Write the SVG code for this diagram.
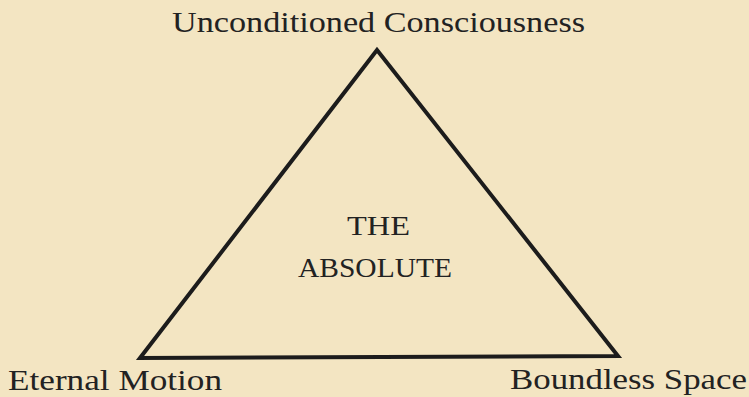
<svg xmlns="http://www.w3.org/2000/svg" width="749" height="397" viewBox="0 0 749 397">
<style>
.lbl{font-family:"Liberation Serif","DejaVu Serif",serif;fill:#222;}
.ctr{font-family:"Liberation Serif","DejaVu Serif",serif;font-size:27px;fill:#222;}
.edge{fill:none;stroke:#1c1c1c;stroke-width:4;stroke-linejoin:miter;}
</style>
<rect width="749" height="397" fill="#f3e5c2"/>
<g id="connectors">
<path class="edge" d="M140,358 L377,50 L618,356 Z"/>
</g>
<g id="node-top"><text class="lbl" font-size="30" x="172" y="32" textLength="413" lengthAdjust="spacingAndGlyphs">Unconditioned  Consciousness</text></g>
<g id="node-left"><text class="lbl" font-size="30" x="8" y="390" textLength="214" lengthAdjust="spacingAndGlyphs">Eternal  Motion</text></g>
<g id="node-right"><text class="lbl" font-size="30" x="510" y="389" textLength="237" lengthAdjust="spacingAndGlyphs">Boundless  Space</text></g>
<g id="node-center">
<text class="ctr" x="347" y="235" textLength="63" lengthAdjust="spacingAndGlyphs">THE</text>
<text class="ctr" x="298" y="277" textLength="154" lengthAdjust="spacingAndGlyphs">ABSOLUTE</text>
</g>
</svg>
